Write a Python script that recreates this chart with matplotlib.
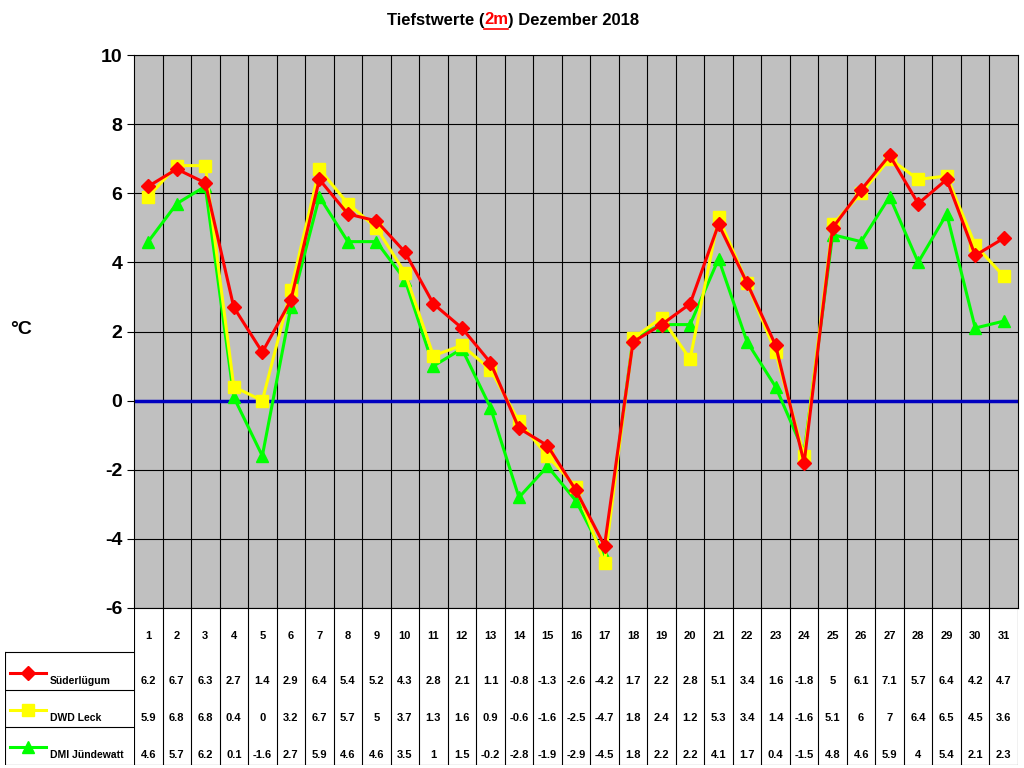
import matplotlib
matplotlib.use("Agg")
import matplotlib.pyplot as plt
from matplotlib.lines import Line2D

plt.rcParams['font.family'] = ['Liberation Sans', 'DejaVu Sans']
plt.rcParams['axes.unicode_minus'] = False

days = list(range(1, 32))
sued = [6.2,6.7,6.3,2.7,1.4,2.9,6.4,5.4,5.2,4.3,2.8,2.1,1.1,-0.8,-1.3,-2.6,-4.2,1.7,2.2,2.8,5.1,3.4,1.6,-1.8,5,6.1,7.1,5.7,6.4,4.2,4.7]
leck = [5.9,6.8,6.8,0.4,0,3.2,6.7,5.7,5,3.7,1.3,1.6,0.9,-0.6,-1.6,-2.5,-4.7,1.8,2.4,1.2,5.3,3.4,1.4,-1.6,5.1,6,7,6.4,6.5,4.5,3.6]
dmi = [4.6,5.7,6.2,0.1,-1.6,2.7,5.9,4.6,4.6,3.5,1,1.5,-0.2,-2.8,-1.9,-2.9,-4.5,1.8,2.2,2.2,4.1,1.7,0.4,-1.5,4.8,4.6,5.9,4,5.4,2.1,2.3]
names = ["Süderlügum", "DWD Leck", "DMI Jündewatt"]
series = [sued, leck, dmi]
colors = ["#ff0000", "#ffff00", "#00ff00"]
markers = ["D", "s", "^"]
msizes = [7, 9, 9]

fig = plt.figure(figsize=(10.24, 7.68), dpi=100)
W, H = 1024, 768
def rect(x0, y0, x1, y1):
    return [x0/W, 1-y1/H, (x1-x0)/W, (y1-y0)/H]

ax = fig.add_axes(rect(134, 55, 1018, 608))
ax.set_facecolor("#c0c0c0")
ax.set_xlim(0.5, 31.5)
ax.set_ylim(-6, 10)
ax.set_yticks(range(-6, 11, 2))
ax.set_xticks([d + 0.5 for d in days[:-1]])
ax.tick_params(axis="x", length=0, labelbottom=False)
ax.tick_params(axis="y", labelsize=14, length=5)
for t in ax.get_yticklabels():
    t.set_fontweight("bold")
ax.grid(True, color="black", linewidth=0.8)
ax.axhline(0, color="#0000c0", linewidth=2.5, zorder=2)
for s, c, m, ms in zip(series[::-1], colors[::-1], markers[::-1], msizes[::-1]):
    ax.plot(days, s, color=c, marker=m, markersize=ms, linewidth=2.2, zorder=3)
fig.text(10/W, 1-330/H, "°C", fontsize=14, fontweight="bold", va="center")

# title in three parts, placed by measured widths
fig.canvas.draw()
r = fig.canvas.get_renderer()
parts = [("Tiefstwerte (", "black"), ("2m", "red"), (") Dezember 2018", "black")]
texts = [fig.text(0, 1-20/H, p, fontsize=12, fontweight="bold", va="center", color=c) for p, c in parts]
widths = [t.get_window_extent(r).width for t in texts]
x = (W - sum(widths)) / 2 + 1
for t, w, (p, c) in zip(texts, widths, parts):
    t.set_x(x/W)
    if c == "red":
        fig.add_artist(Line2D([x/W, (x+w)/W], [1-29/H, 1-29/H], color="red", linewidth=1.2))
    x += w

# table
tab = fig.add_axes(rect(134, 608, 1018, 765))
tab.set_xlim(0.5, 31.5)
tab.set_ylim(765, 608)
tab.axis("off")
for d in range(0, 32):
    tab.plot([d + 0.5, d + 0.5], [608, 765], color="black", linewidth=0.8)
tab.plot([0.5, 31.5], [765, 765], color="black", linewidth=0.8)
for d in days:
    tab.text(d, 636, str(d), ha="center", va="center", fontsize=8, fontweight="bold")
rows_y = [681, 718, 755]
for s, y in zip(series, rows_y):
    for d, v in zip(days, s):
        tab.text(d, y, f"{v:g}", ha="center", va="center", fontsize=8, fontweight="bold")

lab = fig.add_axes(rect(5, 608, 134, 765))
lab.set_xlim(5, 134)
lab.set_ylim(765, 608)
lab.axis("off")
for b in [652, 690, 727, 765]:
    lab.plot([5, 134], [b, b], color="black", linewidth=0.8)
lab.plot([5, 5], [652, 765], color="black", linewidth=0.8)
for i, (n, c, m, ms) in enumerate(zip(names, colors, markers, msizes)):
    y = rows_y[i] - 8
    lab.plot([10, 46], [y, y], color=c, linewidth=2.2)
    lab.plot([28], [y], color=c, marker=m, markersize=ms)
    lab.text(50, rows_y[i], n, fontsize=7.5, fontweight="bold", va="center")

fig.savefig("out.png", dpi=100)
